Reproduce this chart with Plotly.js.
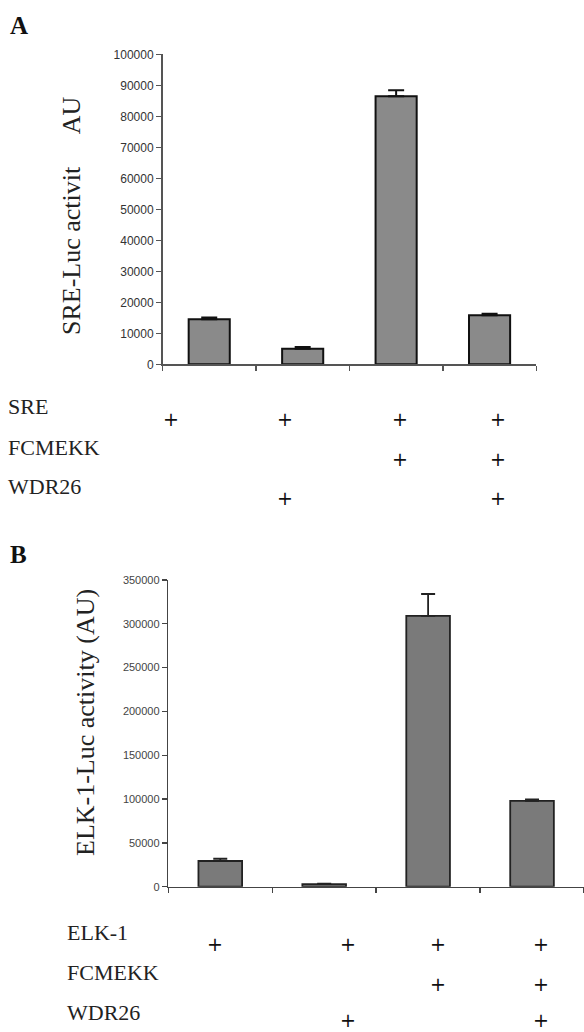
<!DOCTYPE html>
<html><head><meta charset="utf-8">
<script src="https://cdn.plot.ly/plotly-3.0.1.min.js"></script>
<style>html,body{margin:0;padding:0;background:#fff}#chart{width:584px;height:1032px}</style>
</head><body><div id="chart"></div>
<script>
// ---- data ----
const categoriesA = ["SRE", "SRE + WDR26", "SRE + FCMEKK", "SRE + FCMEKK + WDR26"];
const sreLucActivity = [14500, 5000, 86500, 15800];
const sreLucError = [600, 600, 1900, 500];
const yTicksA = [0, 10000, 20000, 30000, 40000, 50000, 60000, 70000, 80000, 90000, 100000];

const categoriesB = ["ELK-1", "ELK-1 + WDR26", "ELK-1 + FCMEKK", "ELK-1 + FCMEKK + WDR26"];
const elkLucActivity = [29300, 3000, 309000, 98000];
const elkLucError = [2600, 500, 25000, 1500];
const yTicksB = [0, 50000, 100000, 150000, 200000, 250000, 300000, 350000];

const rowLabelsA = ["SRE", "FCMEKK", "WDR26"];
const rowLabelsB = ["ELK-1", "FCMEKK", "WDR26"];
const plusMatrixA = [[1, 1, 1, 1], [0, 0, 1, 1], [0, 1, 0, 1]];
const plusMatrixB = [[1, 1, 1, 1], [0, 0, 1, 1], [0, 1, 0, 1]];

const titleA = "SRE-Luc activit\u00a0\u00a0\u00a0\u00a0\u00a0AU";
const titleB = "ELK-1-Luc activity (AU)";

// ---- layout helpers (pixel -> paper) ----
const W = 584, H = 1032;
const px = x => x / W;
const py = y => 1 - y / H;

const serif = "Liberation Serif, Times New Roman, serif";

const traces = [
  {
    type: "bar", x: categoriesA, y: sreLucActivity, xaxis: "x", yaxis: "y",
    width: sreLucActivity.map(() => 0.44),
    marker: {color: "#8a8a8a", line: {color: "#111", width: 2}},
    error_y: {type: "data", array: sreLucError, arrayminus: sreLucError.map(() => 0),
              color: "#111", thickness: 2, width: 8},
    hoverinfo: "x+y", showlegend: false
  },
  {
    type: "bar", x: categoriesB, y: elkLucActivity, xaxis: "x2", yaxis: "y2",
    width: elkLucActivity.map(() => 0.42),
    marker: {color: "#7a7a7a", line: {color: "#222", width: 1.8}},
    error_y: {type: "data", array: elkLucError, arrayminus: elkLucError.map(() => 0),
              color: "#222", thickness: 1.8, width: 7},
    hoverinfo: "x+y", showlegend: false
  }
];

const annotations = [];
function addText(text, x, y, size, opts) {
  annotations.push(Object.assign({
    text: text, xref: "paper", yref: "paper", x: px(x), y: py(y),
    xanchor: "center", yanchor: "middle", showarrow: false,
    font: {family: serif, size: size, color: "#111"}
  }, opts || {}));
}
const plusFont = {family: "DejaVu Sans, sans-serif", size: 19, color: "#111"};

// panel letters
addText("<b>A</b>", 8, 25, 25, {xanchor: "left"});
addText("<b>B</b>", 8, 554.5, 25, {xanchor: "left"});
// axis titles
addText(titleA, 71, 216, 26, {textangle: -90, font: {family: serif, size: 26, color: "#222"}});
addText(titleB, 85, 723, 26, {textangle: -90, font: {family: serif, size: 26, color: "#222"}});

// condition tables
const labelXA = 6, labelYA = [406, 447.5, 487], plusYA = [419.5, 459, 498], plusXA = [171, 285, 399.5, 498];
const labelXB = 65, labelYB = [932.5, 972, 1012.5], plusYB = [943.5, 983.5, 1020], plusXB = [215, 347.5, 438, 540.5];
rowLabelsA.forEach((lab, r) => {
  addText(lab, labelXA, labelYA[r], 22, {xanchor: "left", font: {family: serif, size: 22, color: "#222"}});
  plusMatrixA[r].forEach((on, c) => { if (on) addText("+", plusXA[c], plusYA[r], 19, {font: plusFont}); });
});
rowLabelsB.forEach((lab, r) => {
  addText(lab, labelXB, labelYB[r], 22, {xanchor: "left", font: {family: serif, size: 22, color: "#222"}});
  plusMatrixB[r].forEach((on, c) => { if (on) addText("+", plusXB[c], plusYB[r], 19, {font: plusFont}); });
});

const layout = {
  width: W, height: H, autosize: false,
  margin: {l: 0, r: 0, t: 0, b: 0, pad: 0},
  paper_bgcolor: "#fff", plot_bgcolor: "rgba(0,0,0,0)",
  showlegend: false,
  xaxis: {
    domain: [px(162.5), px(536.3)], anchor: "y", type: "category", range: [-0.5, 3.5],
    showticklabels: false, tickson: "boundaries", ticks: "outside", ticklen: 5, tickwidth: 1.3,
    tickcolor: "#555", showline: true, linecolor: "#555", linewidth: 1.5, showgrid: false,
    zeroline: false, fixedrange: true
  },
  yaxis: {
    domain: [py(364.3), py(54.3)], anchor: "x", range: [0, 100000],
    tickmode: "array", tickvals: yTicksA, ticktext: yTicksA.map(String),
    ticks: "outside", ticklen: 5, tickwidth: 1.3, tickcolor: "#555",
    showline: true, linecolor: "#555", linewidth: 1.5, showgrid: false, zeroline: false,
    tickfont: {family: "Liberation Sans, Arial, sans-serif", size: 12, color: "#333"},
    fixedrange: true
  },
  xaxis2: {
    domain: [px(168.3), 1], anchor: "y2", type: "category", range: [-0.5, 3.5],
    showticklabels: false, tickson: "boundaries", ticks: "outside", ticklen: 5, tickwidth: 1.3,
    tickcolor: "#444", showline: true, linecolor: "#444", linewidth: 1.5, showgrid: false,
    zeroline: false, fixedrange: true
  },
  yaxis2: {
    domain: [py(886.7), py(580)], anchor: "x2", range: [0, 350000],
    tickmode: "array", tickvals: yTicksB, ticktext: yTicksB.map(String),
    ticks: "outside", ticklen: 5, tickwidth: 1.3, tickcolor: "#444",
    showline: true, linecolor: "#444", linewidth: 1.5, showgrid: false, zeroline: false,
    tickfont: {family: "Liberation Sans, Arial, sans-serif", size: 11, color: "#444"},
    fixedrange: true
  },
  annotations: annotations
};

Plotly.newPlot("chart", traces, layout, {displayModeBar: false, staticPlot: true});
</script>
</body></html>
